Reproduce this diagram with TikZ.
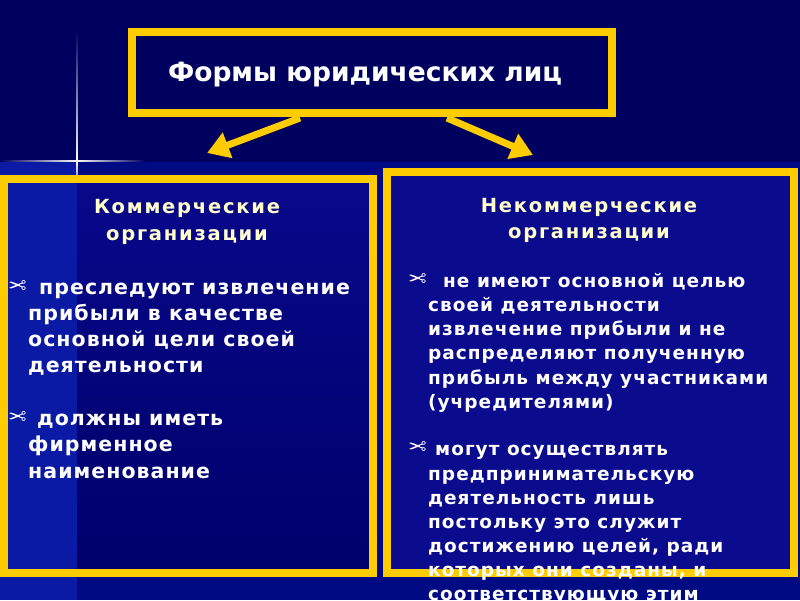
\documentclass[tikz,border=0pt]{standalone}
\usepackage{fontspec}
\setmainfont{DejaVu Sans}
\newfontfamily\dvb{DejaVu Sans Bold}
\newfontfamily\dvbL[LetterSpace=5]{DejaVu Sans Bold}
\newfontfamily\dvbR[LetterSpace=5.5]{DejaVu Sans Bold}
\newfontfamily\dvbT[LetterSpace=9]{DejaVu Sans Bold}
\newfontfamily\symf{DejaVu Sans}
\usetikzlibrary{arrows.meta}
\definecolor{bgtop}{HTML}{00005F}
\definecolor{bglow}{HTML}{000A82}
\definecolor{strip}{HTML}{0A1AA5}
\definecolor{lboxA}{HTML}{08088A}
\definecolor{lboxB}{HTML}{00006C}
\definecolor{rbox}{HTML}{0B0B8E}
\definecolor{gold}{HTML}{FFCC00}
\definecolor{paleyel}{HTML}{FFFFCC}
\tikzset{
  frame/.style={draw=gold, line width=8pt},
  headtxt/.style={text=white, inner sep=0pt, anchor=base, font=\dvb\fontsize{26.5}{30}\selectfont},
  ttlL/.style={text=paleyel, inner sep=0pt, anchor=base, font=\dvbT\fontsize{19.5}{24}\selectfont},
  ttlR/.style={text=paleyel, inner sep=0pt, anchor=base, font=\dvbT\fontsize{19.5}{24}\selectfont},
  txtL/.style={text=white, inner sep=0pt, anchor=base west, font=\dvbL\fontsize{20.5}{26}\selectfont},
  txtR/.style={text=white, inner sep=0pt, anchor=base west, font=\dvbR\fontsize{18.5}{24}\selectfont},
  bul/.style={text=white, inner sep=0pt, anchor=base west, font=\symf\fontsize{22}{24}\selectfont},
  arr/.style={draw=gold, line width=7pt, -{Triangle[length=22pt,width=26pt]}}
}
\newcommand{\scis}{\scalebox{-1}[1]{✂}}
\begin{document}
\begin{tikzpicture}[x=1pt,y=-1pt]
\useasboundingbox (0,0) rectangle (800,600);
% background
\fill[bgtop] (0,0) rectangle (800,162);
\fill[bglow] (0,162) rectangle (800,600);
\fill[strip] (0,162) rectangle (77,600);
% flare lines
\shade[left color=bgtop, right color=white] (0,160.4) rectangle (77,161.6);
\shade[left color=white, right color=bgtop] (77,160.4) rectangle (145,161.6);
\shade[top color=bgtop, bottom color=white] (76.5,30) rectangle (77.5,161);
\shade[top color=white, bottom color=bglow] (76.5,161) rectangle (77.5,200);
% top box
\node[frame, fill=bgtop, minimum width=480pt, minimum height=81pt, inner sep=0pt] (top) at (372,72.5) {};
\node[headtxt] (toptxt) at (365,81) {Формы юридических лиц};
% left box
\node[frame, minimum width=369pt, minimum height=394pt, inner sep=0pt] (lbox) at (188.5,376) {};
\shade[top color=lboxA, bottom color=lboxB] (77,183) rectangle (369,569);
\fill[strip] (8,183) rectangle (77,569);
\node[frame, minimum width=369pt, minimum height=394pt, inner sep=0pt] at (188.5,376) {};
% right box
\node[frame, fill=rbox, minimum width=407pt, minimum height=401pt, inner sep=0pt] (rbox) at (590.5,372.5) {};
% arrows
\coordinate (la) at (300,118);
\coordinate (lt) at (207,153);
\coordinate (ra) at (447,118);
\coordinate (rt) at (533,155);
\draw[arr] (la) -- (lt);
\draw[arr] (ra) -- (rt);
% left texts
\node[ttlL] (lt1) at (187,213) {Коммерческие};
\node[ttlL] (lt2) at (187,240) {организации};
\node[bul] (lb1) at (8,293) {\scis};
\node[txtL] (lp1) at (39,294) {преследуют извлечение};
\foreach \t/\y [count=\i] in {прибыли в качестве/320, основной цели своей/346, деятельности/372}
  \node[txtL] (lc\i) at (28,\y) {\t};
\node[bul] (lb2) at (8,424) {\scis};
\node[txtL] (lp2) at (37,425) {должны иметь};
\foreach \t/\y [count=\i] in {фирменное/451, наименование/478}
  \node[txtL] (ld\i) at (28,\y) {\t};
% right texts
\node[ttlR] (rt1) at (589,212) {Некоммерческие};
\node[ttlR] (rt2) at (589,238) {организации};
\node[bul] (rb1) at (408,286) {\scis};
\node[txtR] (rp1) at (443,287) {не имеют основной целью};
\foreach \t/\y [count=\i] in {своей деятельности/311, извлечение прибыли и не/335, распределяют полученную/359, прибыль между участниками/384, (учредителями)/408}
  \node[txtR] (rc\i) at (428,\y) {\t};
\node[bul] (rb2) at (408,454) {\scis};
\node[txtR] (rp2) at (435,455) {могут осуществлять};
\foreach \t/\y [count=\i] in {предпринимательскую/480, деятельность лишь/504, постольку это служит/528, {достижению целей, ради}/552, {которых они созданы, и}/576, соответствующую этим/600}
  \node[txtR] (rd\i) at (428,\y) {\t};
\end{tikzpicture}
\end{document}
